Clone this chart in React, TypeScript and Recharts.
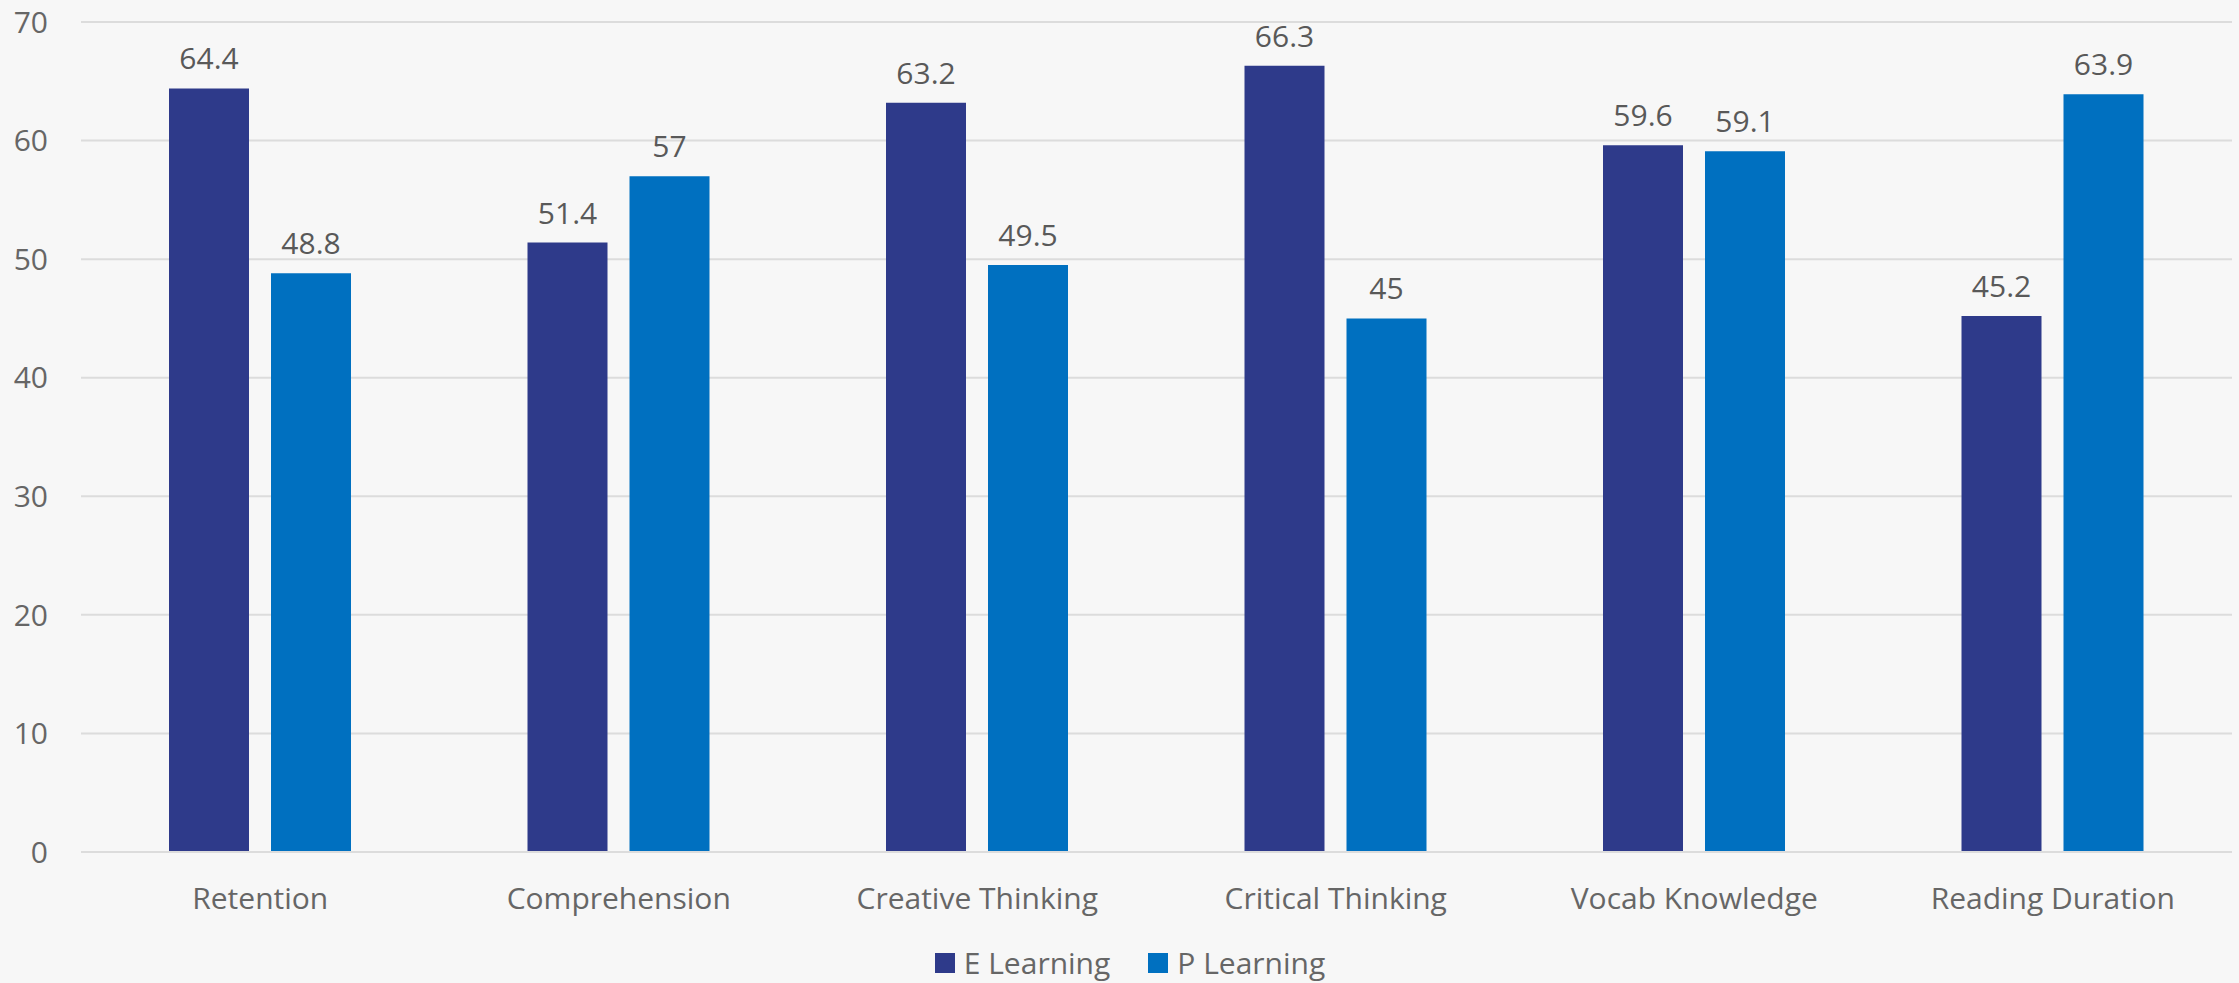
import React from 'react';
import { BarChart, Bar, XAxis, YAxis, CartesianGrid, Legend, LabelList } from 'recharts';

const categories = ['Retention', 'Comprehension', 'Creative Thinking', 'Critical Thinking', 'Vocab Knowledge', 'Reading Duration'];
const eLearning = [64.4, 51.4, 63.2, 66.3, 59.6, 45.2];
const pLearning = [48.8, 57, 49.5, 45, 59.1, 63.9];
const yTicks = [0, 10, 20, 30, 40, 50, 60, 70];

const seriesNames = ['E Learning', 'P Learning'];
const colors = ['#2E3A8A', '#0070C0'];

const data = categories.map((c, i) => ({ name: c, e: eLearning[i], p: pLearning[i] }));

const FONT = '"Open Sans", "Noto Sans", sans-serif';
const FS = 30;

const LegendContent = () => (
  <div style={{ display: 'flex', justifyContent: 'center', alignItems: 'center', paddingTop: 20, paddingLeft: 28, fontFamily: FONT, fontSize: FS, color: '#666666' }}>
    {seriesNames.map((n, i) => (
      <div key={n} style={{ display: 'flex', alignItems: 'center', marginRight: i === 0 ? 38 : 0 }}>
        <div style={{ width: 20, height: 20, background: colors[i], marginRight: 9 }} />
        <span>{n}</span>
      </div>
    ))}
  </div>
);

export default function App() {
  return (
    <div style={{ position: 'absolute', left: 0, top: 0, width: 2239, height: 983, background: '#f7f7f7' }}>
      <BarChart width={2239} height={983} data={data} margin={{ top: 22, right: 7, left: 0, bottom: 0 }} barGap={22} barSize={80}>
        <CartesianGrid vertical={false} stroke="#dcdcdc" strokeWidth={2} />
        <YAxis
          width={81}
          domain={[0, 70]}
          ticks={yTicks}
          axisLine={false}
          tickLine={false}
          tickSize={0}
          tickMargin={33}
          tick={{ fill: '#666666', fontSize: FS, fontFamily: FONT }}
        />
        <XAxis
          dataKey="name"
          height={70}
          axisLine={{ stroke: '#dcdcdc', strokeWidth: 2 }}
          tickLine={false}
          tickSize={0}
          tickMargin={36}
          tick={{ fill: '#666666', fontSize: FS, fontFamily: FONT }}
        />
        <Legend verticalAlign="bottom" height={61} content={<LegendContent />} />
        <Bar dataKey="e" name={seriesNames[0]} fill={colors[0]} isAnimationActive={false}>
          <LabelList dataKey="e" position="top" offset={19} fill="#595959" fontSize={FS} fontFamily={FONT} />
        </Bar>
        <Bar dataKey="p" name={seriesNames[1]} fill={colors[1]} isAnimationActive={false}>
          <LabelList dataKey="p" position="top" offset={19} fill="#595959" fontSize={FS} fontFamily={FONT} />
        </Bar>
      </BarChart>
    </div>
  );
}
